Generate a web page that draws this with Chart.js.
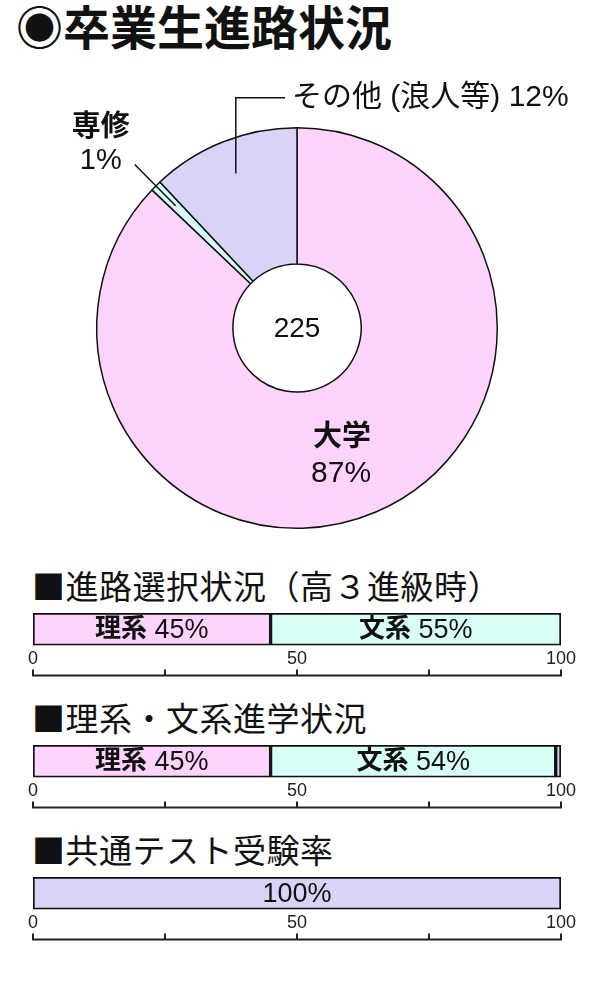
<!DOCTYPE html>
<html lang="ja">
<head>
<meta charset="utf-8">
<title>卒業生進路状況</title>
<script src="https://cdn.jsdelivr.net/npm/chart.js@4.4.1/dist/chart.umd.min.js"></script>
<style>
  body {
    margin: 0;
    width: 600px;
    height: 1000px;
    position: relative;
    background: #fff;
    color: #111;
    font-family: 'Liberation Sans', 'Noto Sans CJK JP', sans-serif;
    overflow: hidden;
  }
  .title {
    position: absolute;
    left: 16px;
    top: 5px;
    font-size: 47px;
    font-weight: bold;
    line-height: 1;
    white-space: nowrap;
  }
  .heading {
    position: absolute;
    left: 32px;
    font-family: 'Noto Sans CJK JP', sans-serif;
    font-size: 33px;
    letter-spacing: 0.5px;
    line-height: 1;
    white-space: nowrap;
  }
  .box {
    position: absolute;
    left: 0;
    width: 600px;
  }
</style>
</head>
<body>
<div class="title">◉卒業生進路状況</div>
<div class="box" style="top:60px;height:490px"><canvas id="pieChart"></canvas></div>

<div class="heading" style="top:569px">■進路選択状況（高３進級時）</div>
<div class="box" style="top:605px;height:85px"><canvas id="choiceChart"></canvas></div>

<div class="heading" style="top:701px">■理系・文系進学状況</div>
<div class="box" style="top:737px;height:85px"><canvas id="resultChart"></canvas></div>

<div class="heading" style="top:833px">■共通テスト受験率</div>
<div class="box" style="top:869px;height:85px"><canvas id="testChart"></canvas></div>

<script>
// Pie: graduates' paths (counts out of 225)
const pieLabels = ['大学', '専修', 'その他 (浪人等)'];
const pieCounts = [196, 2, 27];
const piePercents = [87, 1, 12];
const totalGraduates = 225;
const pieColors = ['#FFD4FC', '#D8FFF6', '#D8D4F8'];

// Bars (percent)
const choiceNames = ['理系', '文系'];
const choiceValues = [45, 55];
const resultNames = ['理系', '文系', ''];
const resultValues = [45, 54, 1];
const testNames = [''];
const testValues = [100];
const barColors = ['#FFD4FC', '#D8FFF6', '#D8D4F8'];

const tickValues = [0, 25, 50, 75, 100];
const tickLabels = [0, 50, 100];

const FONT = "'Liberation Sans', 'Noto Sans CJK JP', sans-serif";
const INK = '#111';

// Labels, leader lines and the total in the middle of the doughnut
const pieLabelPlugin = {
  id: 'pieLabels',
  afterDatasetsDraw(chart) {
    const ctx = chart.ctx;
    const arcs = chart.getDatasetMeta(0).data;
    const cx = arcs[0].x;
    const cy = arcs[0].y;
    const R = arcs[0].outerRadius;
    const mid = arc => (arc.startAngle + arc.endAngle) / 2;
    const polar = (a, r) => [cx + Math.cos(a) * r, cy + Math.sin(a) * r];

    ctx.save();
    ctx.fillStyle = INK;
    ctx.strokeStyle = INK;
    ctx.lineWidth = 1.5;
    ctx.textBaseline = 'middle';
    ctx.textAlign = 'center';

    // total
    ctx.font = '28px ' + FONT;
    ctx.fillText(String(totalGraduates), cx, cy + 1);

    // 大学
    ctx.font = 'bold 29px ' + FONT;
    ctx.fillText(pieLabels[0], cx + 0.225 * R, cy + 0.55 * R);
    ctx.font = '30px ' + FONT;
    ctx.fillText(piePercents[0] + '%', cx + 0.22 * R, cy + 0.73 * R);

    // 専修: radial leader line
    const a1 = mid(arcs[1]);
    const p1 = polar(a1, 0.86 * R);
    const p2 = polar(a1, 1.15 * R);
    ctx.beginPath();
    ctx.moveTo(p1[0], p1[1]);
    ctx.lineTo(p2[0], p2[1]);
    ctx.stroke();
    ctx.font = 'bold 29px ' + FONT;
    ctx.fillText(pieLabels[1], cx - 0.98 * R, cy - 1.0 * R);
    ctx.font = '29px ' + FONT;
    ctx.fillText(piePercents[1] + '%', cx - 0.98 * R, cy - 0.835 * R);

    // その他: elbow leader line
    const a2 = mid(arcs[2]);
    const q = polar(a2, 0.83 * R);
    const topY = cy - 1.15 * R;
    ctx.beginPath();
    ctx.moveTo(q[0], q[1]);
    ctx.lineTo(q[0], topY);
    ctx.lineTo(cx - 12, topY);
    ctx.stroke();
    ctx.textAlign = 'left';
    ctx.font = '30px ' + FONT;
    ctx.fillText(pieLabels[2] + ' ' + piePercents[2] + '%', cx - 5, topY);
    ctx.restore();
  }
};

new Chart(document.getElementById('pieChart'), {
  type: 'doughnut',
  data: {
    labels: pieLabels,
    datasets: [{
      data: pieCounts,
      backgroundColor: pieColors,
      borderColor: INK,
      borderWidth: 1.5,
      hoverOffset: 0
    }]
  },
  options: {
    responsive: true,
    maintainAspectRatio: false,
    animation: false,
    cutout: '32%',
    layout: { padding: { top: 67, bottom: 21, left: 96, right: 102 } },
    plugins: { legend: { display: false }, tooltip: { enabled: false } }
  },
  plugins: [pieLabelPlugin]
});

// Text inside each bar segment: bold name + value
const barTextPlugin = {
  id: 'barText',
  afterDatasetsDraw(chart, args, opts) {
    const ctx = chart.ctx;
    ctx.save();
    ctx.fillStyle = INK;
    ctx.textBaseline = 'middle';
    ctx.textAlign = 'left';
    chart.data.datasets.forEach((ds, i) => {
      const name = opts.names[i];
      if (name === null || name === undefined || ds.data[0] < 5) return;
      const bar = chart.getDatasetMeta(i).data[0];
      const centerX = (bar.x + bar.base) / 2;
      const num = (name ? ' ' : '') + ds.data[0] + '%';
      ctx.font = 'bold 26px ' + FONT;
      const wName = ctx.measureText(name).width;
      ctx.font = '27px ' + FONT;
      const wNum = ctx.measureText(num).width;
      const x = centerX - (wName + wNum) / 2;
      ctx.font = 'bold 26px ' + FONT;
      ctx.fillText(name, x, bar.y + 1);
      ctx.font = '27px ' + FONT;
      ctx.fillText(num, x + wName, bar.y + 1);
    });
    ctx.restore();
  }
};

// Scale line under the tick labels, ticks pointing up
const axisLinePlugin = {
  id: 'axisLine',
  afterDraw(chart) {
    const ctx = chart.ctx;
    const xs = chart.scales.x;
    const y = chart.chartArea.bottom + 30;
    ctx.save();
    ctx.strokeStyle = '#222';
    ctx.lineWidth = 2;
    ctx.beginPath();
    ctx.moveTo(xs.getPixelForValue(0) - 1, y);
    ctx.lineTo(xs.getPixelForValue(100) + 1, y);
    tickValues.forEach(v => {
      const px = xs.getPixelForValue(v);
      ctx.moveTo(px, y);
      ctx.lineTo(px, y - 6);
    });
    ctx.stroke();
    ctx.restore();
  }
};

function makeBar(id, values, names) {
  return new Chart(document.getElementById(id), {
    type: 'bar',
    data: {
      labels: [''],
      datasets: values.map((v, i) => ({
        label: names[i],
        data: [v],
        backgroundColor: barColors[values.length === 1 ? 2 : i],
        borderColor: INK,
        borderWidth: 2,
        borderSkipped: false,
        barPercentage: 1,
        categoryPercentage: 1
      }))
    },
    options: {
      indexAxis: 'y',
      responsive: true,
      maintainAspectRatio: false,
      animation: false,
      layout: { padding: { top: 8, bottom: 17, left: 33, right: 39 } },
      plugins: {
        legend: { display: false },
        tooltip: { enabled: false },
        barText: { names: names }
      },
      scales: {
        x: {
          stacked: true,
          min: 0,
          max: 100,
          border: { display: false },
          grid: { display: false, drawTicks: false },
          ticks: {
            stepSize: 25,
            padding: 3,
            autoSkip: false,
            maxRotation: 0,
            color: '#222',
            font: { size: 18, family: FONT },
            callback: v => tickLabels.includes(v) ? String(v) : ''
          }
        },
        y: { stacked: true, display: false }
      }
    },
    plugins: [barTextPlugin, axisLinePlugin]
  });
}

makeBar('choiceChart', choiceValues, choiceNames);
makeBar('resultChart', resultValues, resultNames);
makeBar('testChart', testValues, testNames);
</script>
</body>
</html>
